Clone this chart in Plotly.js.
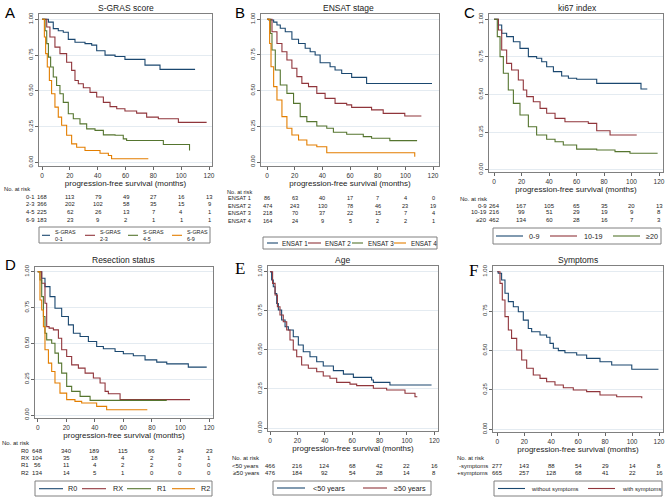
<!DOCTYPE html>
<html><head><meta charset="utf-8">
<script src="https://cdn.plot.ly/plotly-3.0.1.min.js"></script>
<style>html,body{margin:0;padding:0;background:#fff}#chart{width:667px;height:497px}</style>
</head><body><div id="chart"></div>
<script>
// ---------- data ----------
const xTicks = [0,20,40,60,80,100,120];
const yTicks = [0,0.25,0.5,0.75,1];
const yTickText = ['0.00','0.25','0.50','0.75','1.00'];

// A: S-GRAS score
const sg01_t = [0,4.6,8.1,11.7,15.3,18.9,23.7,30.9,35.7,39.3,45.3,52.5,59.6,74,84.8,110];
const sg01_s = [1,0.98,0.935,0.92,0.91,0.86,0.84,0.83,0.82,0.78,0.75,0.74,0.72,0.68,0.65,0.65];
const sg23_t = [0,3.4,5.7,9.3,12.9,17.7,21.3,23.7,26.1,29.7,34.5,39.3,44.1,48.9,53.7,59.6,68,75.2,83.6,98,118.3];
const sg23_s = [1,0.946,0.876,0.806,0.76,0.70,0.643,0.573,0.55,0.522,0.49,0.457,0.42,0.39,0.375,0.36,0.345,0.317,0.305,0.28,0.28];
const sg45_t = [0,2.2,3.4,4.6,6.2,8.1,10.5,12.9,15.3,18.9,22.5,27.3,32.1,38.1,44.1,52.5,58.4,60.8,87.2,106];
const sg45_s = [1,0.92,0.83,0.736,0.667,0.597,0.538,0.48,0.42,0.34,0.305,0.27,0.235,0.224,0.193,0.19,0.165,0.154,0.126,0.084];
const sg69_t = [0,1.7,2.6,3.8,5.3,6.9,9.3,11.7,14.1,17.7,21.3,24.9,30.9,41.7,47.7,50,76.4];
const sg69_s = [1,0.876,0.76,0.667,0.573,0.48,0.387,0.317,0.26,0.19,0.13,0.107,0.084,0.065,0.049,0.026,0.026];
const sgLabels = ['0-1','2-3','4-5','6-9'];
const sgRisk01 = [168,113,79,49,27,16,13];
const sgRisk23 = [366,202,102,58,35,15,9];
const sgRisk45 = [225,62,26,13,7,4,1];
const sgRisk69 = [183,23,9,2,1,1,1];
const sgLegend = ['S-GRAS<br>0-1','S-GRAS<br>2-3','S-GRAS<br>4-5','S-GRAS<br>6-9'];

// B: ENSAT stage
const e1_t = [0,1.2,4.8,7.2,9.6,13.2,18,22.8,27.6,31.2,34.8,38.4,45.6,49.2,54,61.2,72,119.3];
const e1_s = [1,0.995,0.98,0.96,0.937,0.913,0.86,0.83,0.797,0.773,0.75,0.696,0.668,0.645,0.62,0.593,0.55,0.55];
const e2_t = [0,3.6,7.2,10.8,14.4,18,21.6,25.2,30,36,42,49.2,57.6,61.2,75.6,84,99.6,111.6];
const e2_s = [1,0.913,0.83,0.773,0.715,0.657,0.598,0.551,0.528,0.481,0.446,0.411,0.4,0.383,0.365,0.341,0.322,0.322];
const e3_t = [0,2.4,3.6,6,9.6,14.4,19.2,24,28.8,36,43.2,48,57.6,69.6,75.6,88.8,108.5];
const e3_s = [1,0.9,0.785,0.645,0.54,0.481,0.411,0.318,0.283,0.252,0.236,0.208,0.194,0.178,0.166,0.15,0.15];
const e4_t = [0,1.9,2.9,4.8,7.2,10.8,14.4,18,22.8,28.8,36,43.2,106.8];
const e4_s = [1,0.83,0.668,0.528,0.435,0.318,0.236,0.189,0.154,0.119,0.107,0.065,0.037];
const enLabels = ['ENSAT 1','ENSAT 2','ENSAT 3','ENSAT 4'];
const enRisk1 = [86,63,40,17,7,4,0];
const enRisk2 = [474,243,130,78,46,23,19];
const enRisk3 = [218,70,37,22,15,7,4];
const enRisk4 = [164,24,9,5,2,2,1];

// C: ki67 index
const k09_t = [0,3.2,5.6,9.2,14.1,18.9,25,31,34.7,38.3,43.2,49.2,54.1,60.1,74.7,106.9,111.5];
const k09_s = [1,0.962,0.907,0.885,0.851,0.807,0.752,0.741,0.718,0.685,0.652,0.623,0.608,0.601,0.574,0.537,0.537];
const k1019_t = [0,3.2,5.6,9.2,12.8,17.7,21.3,23.8,28.6,33.5,38.3,44.4,51.6,68.6,74.7,84.4,103.8];
const k1019_s = [1,0.929,0.796,0.707,0.663,0.596,0.53,0.486,0.452,0.408,0.375,0.341,0.319,0.308,0.259,0.231,0.231];
const k20_t = [0,2.4,4.4,6.8,10.4,14.1,18.9,25,31,38.3,44.4,50.4,60.1,74.7,88,98.9,119];
const k20_s = [1,0.885,0.752,0.641,0.53,0.441,0.364,0.286,0.231,0.202,0.186,0.164,0.137,0.131,0.12,0.109,0.109];
const kiLabels = ['0-9','10-19','\u226520'];
const kiRisk09 = [264,167,105,65,35,20,13];
const kiRisk1019 = [216,99,51,29,19,9,8];
const kiRisk20 = [462,134,60,28,16,7,3];

// D: Resection status
const r0_t = [0,2.8,5.1,8.6,12.1,16.8,21.5,25,29.7,35.5,41.3,46,54.2,60,67,75.2,83.4,90.4,105.5,118.4];
const r0_s = [1,0.954,0.896,0.826,0.745,0.687,0.629,0.571,0.548,0.513,0.478,0.462,0.443,0.427,0.413,0.385,0.369,0.357,0.334,0.334];
const rx_t = [0,2.8,5.1,6.3,8,11,14.5,16.8,20.3,23.8,28.5,33.2,39,43.7,47.2,49.5,57.7,106.7];
const rx_s = [1,0.919,0.78,0.617,0.606,0.594,0.536,0.455,0.408,0.35,0.327,0.292,0.258,0.223,0.165,0.148,0.107,0.107];
const r1_t = [0,1.6,2.8,4,5.1,6.3,9.8,12.1,14.5,16.8,20.3,23.8,29.7,36.7,90.4];
const r1_s = [1,0.942,0.826,0.687,0.571,0.524,0.501,0.432,0.362,0.292,0.2,0.165,0.13,0.102,0.102];
const r2_t = [0,1.6,2.8,4,5.1,7.5,9.8,12.1,15.6,20.3,26.1,30.8,41.3,48.3,76.8];
const r2_s = [1,0.803,0.733,0.617,0.455,0.362,0.304,0.223,0.153,0.107,0.095,0.084,0.06,0.037,0.037];
const reLabels = ['R0','RX','R1','R2'];
const reRisk0 = [648,340,189,115,66,34,23];
const reRiskX = [104,35,18,4,2,2,1];
const reRisk1 = [56,11,4,2,2,0,0];
const reRisk2 = [134,14,5,1,0,0,0];

// E: Age
const lt50_t = [0,1.2,2.4,3.7,4.9,6.1,8.5,11,13.4,17,20.7,24.3,29.2,34.1,38.9,46.3,53.6,60.9,74.2,75.5,87.6,118];
const lt50_s = [1,0.947,0.904,0.861,0.797,0.755,0.691,0.648,0.627,0.584,0.531,0.488,0.456,0.424,0.397,0.367,0.345,0.324,0.307,0.292,0.275,0.275];
const ge50_t = [0,1.9,3.7,5.4,7.3,9.7,12.2,14.6,17,19.5,23.1,28,34.1,38.9,43.8,48.7,58.4,63.3,75.5,85.2,98.6,105.9,107.6];
const ge50_s = [1,0.925,0.851,0.776,0.723,0.68,0.627,0.563,0.499,0.456,0.403,0.382,0.36,0.333,0.318,0.292,0.281,0.271,0.254,0.243,0.222,0.2,0.2];
const ageLabels = ['<50 years','\u226550 years'];
const ageRiskLt50 = [466,216,124,68,42,22,16];
const ageRiskGe50 = [476,184,92,54,28,14,8];

// F: Symptoms
const wo_t = [0,0.7,3.2,5.7,8.2,11.9,15.6,19.3,23,25.5,31.7,36.6,39.1,41.6,45.3,50.2,58.9,66.3,76.2,84.9,99.8,119.6];
const wo_s = [1,0.99,0.947,0.863,0.81,0.778,0.746,0.693,0.64,0.619,0.598,0.584,0.545,0.514,0.499,0.486,0.471,0.45,0.429,0.408,0.381,0.381];
const wi_t = [0,2,3.7,5.7,8.2,10.6,14.4,18.1,21.8,26.7,31.7,36.6,42.8,49,56.4,66.3,76.2,88.6,107.2];
const wi_s = [1,0.926,0.82,0.715,0.63,0.577,0.503,0.44,0.387,0.345,0.323,0.302,0.281,0.264,0.249,0.239,0.218,0.207,0.197];
const symLabels = ['-symptoms','+symptoms'];
const symRiskWo = [277,143,88,54,29,14,8];
const symRiskWi = [665,257,128,68,41,22,16];
const symLegend = ['without symptoms','with symptoms'];

// ---------- layout helpers ----------
const W = 667, H = 497;
const px = x => x / W, py = y => 1 - y / H;
const NAVY = '#1a476f', MAROON = '#90353b', GREEN = '#55752f', ORANGE = '#e37e00';
const SANS = "Arial, 'Liberation Sans', sans-serif";
const SERIF = "'Times New Roman', 'Liberation Serif', serif";

const panels = [
  { letter:'A', serif:false, lx:3, ly:12, title:'S-GRAS score', tx:125.5, ty:7.5,
    frame:[39,212,14,166], xp:[42,209], yp:[19.3,162.5],
    curves:[[sg01_t,sg01_s,NAVY],[sg23_t,sg23_s,MAROON],[sg45_t,sg45_s,GREEN],[sg69_t,sg69_s,ORANGE]],
    risk:{fs:5.8, hx:2, hy:189.3, lr:36, rows:[196.7,204.3,212.3,220], labels:sgLabels, vals:[sgRisk01,sgRisk23,sgRisk45,sgRisk69]},
    leg:{box:[39,210,227,243], cy:235.3, fs:5.4, items:[[42,50,53,sgLegend[0],NAVY],[85,95,98,sgLegend[1],MAROON],[128,138,141,sgLegend[2],GREEN],[172,182,185,sgLegend[3],ORANGE]]}},
  { letter:'B', serif:false, lx:233, ly:12, title:'ENSAT stage', tx:348.5, ty:7.5,
    frame:[261,439,14,166], xp:[267,433], yp:[19.3,162],
    curves:[[e1_t,e1_s,NAVY],[e2_t,e2_s,MAROON],[e3_t,e3_s,GREEN],[e4_t,e4_s,ORANGE]],
    risk:{fs:5.6, hx:225, hy:191.8, lr:253, rows:[198.2,205.5,213,220.5], labels:enLabels, vals:[enRisk1,enRisk2,enRisk3,enRisk4]},
    leg:{box:[263,437,237,249], cy:243, fs:6.3, items:[[267,278,280,enLabels[0],NAVY],[308,321,323,enLabels[1],MAROON],[352,363,366,enLabels[2],GREEN],[394,406,409,enLabels[3],ORANGE]]}},
  { letter:'C', serif:false, lx:462, ly:12, title:'ki67 index', tx:577, ty:7.5,
    frame:[489,663,14,172], xp:[494,659], yp:[19.3,169.7],
    curves:[[k09_t,k09_s,NAVY],[k1019_t,k1019_s,MAROON],[k20_t,k20_s,GREEN]],
    risk:{fs:6, hx:458, hy:199, lr:489, rows:[205.5,212.5,220], labels:kiLabels, vals:[kiRisk09,kiRisk1019,kiRisk20]},
    leg:{box:[493,661,228,244], cy:236, fs:7.2, items:[[496,523,527,kiLabels[0],NAVY],[550,577,582,kiLabels[1],MAROON],[613,640,644,kiLabels[2],GREEN]]}},
  { letter:'D', serif:false, lx:3, ly:264, title:'Resection status', tx:123, ty:260,
    frame:[35,213,267,418], xp:[37.7,209], yp:[271.7,415],
    curves:[[r0_t,r0_s,NAVY],[rx_t,rx_s,MAROON],[r1_t,r1_s,GREEN],[r2_t,r2_s,ORANGE]],
    risk:{fs:6, hx:0, hy:443.3, lr:31, rows:[451,458.3,465.3,472.7], labels:reLabels, vals:[reRisk0,reRiskX,reRisk1,reRisk2]},
    leg:{box:[35,212,481,496], cy:488.7, fs:7.2, items:[[39,63,66,reLabels[0],NAVY],[82,106,111,reLabels[1],MAROON],[127,151,155,reLabels[2],GREEN],[172,195,199,reLabels[3],ORANGE]]}},
  { letter:'E', serif:true, lx:233, ly:268, title:'Age', tx:343, ty:260,
    frame:[268,438,266,431], xp:[270,434.3], yp:[271.7,428],
    curves:[[lt50_t,lt50_s,NAVY],[ge50_t,ge50_s,MAROON]],
    risk:{fs:6, hx:230, hy:458.3, lr:261, rows:[465.7,472.7], labels:ageLabels, vals:[ageRiskLt50,ageRiskGe50]},
    leg:{box:[273,431,481,495], cy:488, fs:7.2, items:[[277,305,311,ageLabels[0],NAVY],[363,387,392,ageLabels[1],MAROON]]}},
  { letter:'F', serif:true, lx:467, ly:270, title:'Symptoms', tx:578, ty:260,
    frame:[493,663,266,432], xp:[497.3,659], yp:[271.7,429.3],
    curves:[[wo_t,wo_s,NAVY],[wi_t,wi_s,MAROON]],
    risk:{fs:6, hx:455, hy:458.3, lr:490, rows:[465.7,472.7], labels:symLabels, vals:[symRiskWo,symRiskWi]},
    leg:{box:[494,662,481,496], cy:488.5, fs:5.8, items:[[498,525,529,symLegend[0],NAVY],[588,615,620,symLegend[1],MAROON]]}}
];

const data = [];
const layout = {
  width: W, height: H, margin:{l:0,r:0,t:0,b:0}, autosize:false,
  paper_bgcolor:'#ffffff', plot_bgcolor:'#ffffff', showlegend:false,
  font:{family:SANS, color:'#222'}, annotations:[], shapes:[]
};

panels.forEach((p, i) => {
  const n = i + 1;
  const xa = 'x' + (n > 1 ? n : ''), ya = 'y' + (n > 1 ? n : '');
  const xk = 'xaxis' + (n > 1 ? n : ''), yk = 'yaxis' + (n > 1 ? n : '');
  const [L, R, T, B] = p.frame;
  const sx = (p.xp[1] - p.xp[0]) / 120;
  const xr = [(L - p.xp[0]) / sx, (R - p.xp[0]) / sx];
  const d = p.yp[1] - p.yp[0];
  const yr = [(p.yp[1] - B) / d, (p.yp[1] - T) / d];

  layout[xk] = {
    domain:[px(L), px(R)], range:xr, anchor:ya, showline:true, mirror:true,
    linecolor:'#808080', linewidth:1, ticks:'outside', ticklen:3, tickwidth:1, tickcolor:'#666',
    tickvals:xTicks, ticktext:xTicks.map(String), tickfont:{size:6.5, color:'#333'},
    showgrid:false, zeroline:false, fixedrange:true,
    title:{text:'progression-free survival (months)', font:{size:8, color:'#222'}, standoff:1}
  };
  layout[yk] = {
    domain:[py(B), py(T)], range:yr, anchor:xa, showline:true, mirror:true,
    linecolor:'#808080', linewidth:1, ticks:'outside', ticklen:3, tickwidth:1, tickcolor:'#666',
    tickvals:yTicks, ticktext:yTickText, tickangle:-90, tickfont:{size:6, color:'#333'},
    showgrid:true, gridcolor:'#e4ebf1', gridwidth:1, zeroline:false, fixedrange:true
  };

  p.curves.forEach(c => {
    data.push({type:'scatter', mode:'lines', x:c[0], y:c[1], xaxis:xa, yaxis:ya,
      line:{shape:'hv', color:c[2], width:1.1}, hoverinfo:'skip'});
  });

  // panel letter and title
  layout.annotations.push({xref:'paper', yref:'paper', x:px(p.lx), y:py(p.ly), xanchor:'left', yanchor:'middle',
    text:p.letter, showarrow:false, font:{size:p.serif?17:15, family:p.serif?SERIF:SANS, color:'#000'}});
  layout.annotations.push({xref:'paper', yref:'paper', x:px(p.tx), y:py(p.ty), xanchor:'center', yanchor:'middle',
    text:p.title, showarrow:false, font:{size:8.5, color:'#222'}});

  // risk table
  const rk = p.risk;
  layout.annotations.push({xref:'paper', yref:'paper', x:px(rk.hx), y:py(rk.hy), xanchor:'left', yanchor:'middle',
    text:'No. at risk', showarrow:false, font:{size:rk.fs, color:'#222'}});
  rk.rows.forEach((ry, j) => {
    layout.annotations.push({xref:'paper', yref:'paper', x:px(rk.lr), y:py(ry), xanchor:'right', yanchor:'middle',
      text:rk.labels[j], showarrow:false, font:{size:rk.fs, color:'#222'}});
    rk.vals[j].forEach((v, k) => {
      layout.annotations.push({xref:xa, yref:'paper', x:xTicks[k], y:py(ry), xanchor:'center', yanchor:'middle',
        text:String(v), showarrow:false, font:{size:rk.fs, color:'#222'}});
    });
  });

  // legend box
  const lg = p.leg;
  layout.shapes.push({type:'rect', xref:'paper', yref:'paper', x0:px(lg.box[0]), x1:px(lg.box[1]),
    y0:py(lg.box[3]), y1:py(lg.box[2]), line:{color:'#808080', width:1}, fillcolor:'rgba(0,0,0,0)'});
  lg.items.forEach(it => {
    layout.shapes.push({type:'line', xref:'paper', yref:'paper', x0:px(it[0]), x1:px(it[1]),
      y0:py(lg.cy), y1:py(lg.cy), line:{color:it[4], width:1.1}});
    layout.annotations.push({xref:'paper', yref:'paper', x:px(it[2]), y:py(lg.cy), xanchor:'left', yanchor:'middle',
      text:it[3], showarrow:false, align:'left', font:{size:lg.fs, color:'#222'}});
  });
});

Plotly.newPlot('chart', data, layout, {displayModeBar:false, staticPlot:true});
</script>
</body></html>
